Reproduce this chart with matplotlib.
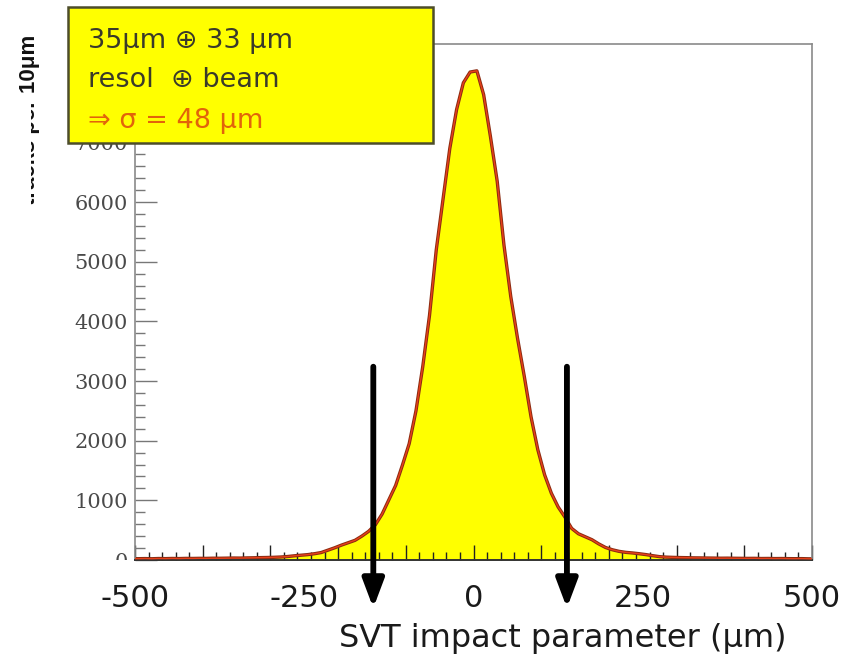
"""SVT impact parameter distribution, 10 um bins, with resolution box and cut arrows."""

import matplotlib
matplotlib.use("Agg")
import matplotlib.pyplot as plt
import numpy as np
from matplotlib.patches import Rectangle
from matplotlib.ticker import FuncFormatter, MultipleLocator

# bin centres every 10 um from -495 to 495; counts
bin_centers = np.arange(-495, 496, 10)
counts_left = [22, 24, 21, 25, 23, 26, 24, 27, 26, 28,
               27, 30, 29, 31, 33, 32, 35, 37, 40, 42,
               45, 50, 58, 70, 80, 90, 105, 125, 165, 205,
               250, 290, 330, 400, 480, 590, 770, 1010, 1250, 1590,
               1950, 2500, 3240, 4100, 5200, 6050, 6900, 7550, 8000, 8180]
counts_right = [8200, 7800, 7100, 6350, 5280, 4420, 3720, 3080, 2400, 1850,
                1430, 1120, 890, 720, 530, 440, 390, 340, 270, 210,
                172, 145, 128, 118, 105, 90, 72, 56, 48, 44,
                41, 39, 36, 35, 33, 32, 30, 31, 29, 28,
                27, 28, 25, 26, 24, 25, 23, 22, 23, 20]
counts = np.array(counts_left + counts_right)

xtick_labels = [-500, -250, 0, 250, 500]
cut_positions = [-148, 138]
box_lines = ["35μm ⊕ 33 μm", "resol  ⊕ beam", "⇒ σ = 48 μm"]

W, H = 852, 659


def fx(px):
    return px / W


def fy(py):
    return 1 - py / H


fig = plt.figure(figsize=(W / 100, H / 100), dpi=100)
ax = fig.add_axes([fx(135), fy(560), (812 - 135) / W, (560 - 44) / H])

# histogram drawn as a polyline through bin contents (ROOT "L"-like)
xs = np.concatenate([[-500], bin_centers, [500]])
ys = np.concatenate([[counts[0]], counts, [counts[-1]]])
ax.fill_between(xs, ys, 0, color="#ffff00", lw=0, zorder=1)
ax.plot(xs, ys, color="#8a2a10", lw=2.4, zorder=2)
ax.plot(xs, ys, color="#e8401a", lw=1.0, zorder=3)

ax.set_xlim(-500, 500)
ax.set_ylim(0, 8650)

# ROOT-style ticks, inside
ax.xaxis.set_major_locator(MultipleLocator(100))
ax.xaxis.set_minor_locator(MultipleLocator(20))
ax.yaxis.set_major_locator(MultipleLocator(1000))
ax.yaxis.set_minor_locator(MultipleLocator(200))
# the 8000 label sits under the text box in the original
ax.yaxis.set_major_formatter(FuncFormatter(lambda v, _: "" if v >= 8000 else f"{v:.0f}"))
ax.tick_params(axis="x", which="both", direction="in", colors="#222222",
               labelbottom=False, top=False)
ax.tick_params(axis="x", which="major", length=11, width=1.0)
ax.tick_params(axis="x", which="minor", length=5.5, width=1.0)
ax.tick_params(axis="y", which="both", direction="in", color="#777777",
               labelcolor="#4a4a4a", right=False)
ax.tick_params(axis="y", which="major", length=16, width=1.0, pad=5)
ax.tick_params(axis="y", which="minor", length=7, width=1.0)
for lab in ax.get_yticklabels():
    lab.set_fontfamily("DejaVu Serif")
    lab.set_fontsize(15)

for side in ("left", "top", "right"):
    ax.spines[side].set_color("#8a8a8a")
    ax.spines[side].set_linewidth(1.2)
ax.spines["bottom"].set_color("#333333")
ax.spines["bottom"].set_linewidth(1.4)

for v in xtick_labels:
    ax.text(v, -0.091, str(v), transform=ax.get_xaxis_transform(),
            ha="center", va="baseline", fontsize=22, color="#1a1a1a",
            family="DejaVu Sans", clip_on=False)

# cut arrows
for xc in cut_positions:
    ax.annotate("", xy=(xc, -805), xytext=(xc, 3240),
                arrowprops=dict(arrowstyle="-|>,head_width=0.32,head_length=0.85",
                                lw=4.2, color="black", shrinkA=0, shrinkB=0,
                                mutation_scale=20),
                annotation_clip=False, zorder=6)

fig.text(fx(563), fy(647), "SVT impact parameter (μm)", ha="center",
         va="baseline", fontsize=23, color="#1a1a1a", family="DejaVu Sans")

# y title, partly hidden in the original
fig.text(fx(30), fy(120), "tracks per 10μm", rotation=90, ha="center",
         va="center", fontsize=16, fontweight="bold", color="#111111",
         family=["Liberation Sans", "DejaVu Sans"])
fig.add_artist(Rectangle((0, fy(215)), fx(31), (215 - 96) / H,
                         transform=fig.transFigure, facecolor="white",
                         edgecolor="none", zorder=8))
fig.add_artist(Rectangle((fx(60), fy(580)), (132 - 60) / W, (580 - 560) / H,
                         transform=fig.transFigure, facecolor="white",
                         edgecolor="none", zorder=8))

# resolution box
fig.add_artist(Rectangle((fx(68), fy(143)), (433 - 68) / W, (143 - 7) / H,
                         transform=fig.transFigure, facecolor="#ffff00",
                         edgecolor="#4d4d2a", lw=1.8, zorder=10))
for line, base, col in zip(box_lines, [48, 87, 128],
                           ["#3a3a2a", "#3a3a2a", "#e2640a"]):
    fig.text(fx(88), fy(base), line, ha="left", va="baseline", fontsize=19.5,
             color=col, family=["DejaVu Sans"], zorder=11)

fig.savefig("out.png", dpi=100)
